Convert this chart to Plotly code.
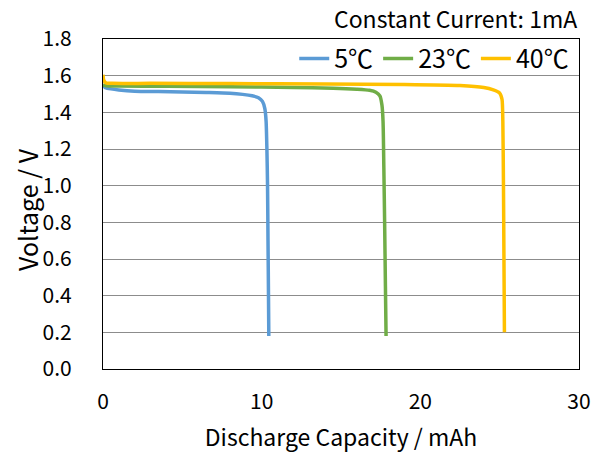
import plotly.graph_objects as go

# Discharge curves
cap_5 = [0, 0.15, 0.5, 1.0, 2.0, 3.5, 5.0, 6.5, 8.0, 8.8, 9.4, 9.8, 10.05, 10.2, 10.28, 10.33, 10.37, 10.4, 10.43, 10.45]
v_5 = [1.545, 1.535, 1.528, 1.522, 1.515, 1.513, 1.511, 1.508, 1.504, 1.498, 1.49, 1.48, 1.46, 1.42, 1.35, 1.2, 1.0, 0.7, 0.4, 0.18]

cap_23 = [0, 0.2, 1.0, 4.0, 8.0, 12.0, 14.5, 16.0, 16.8, 17.2, 17.45, 17.58, 17.65, 17.7, 17.75, 17.8, 17.84]
v_23 = [1.55, 1.545, 1.543, 1.542, 1.54, 1.536, 1.532, 1.526, 1.52, 1.51, 1.49, 1.44, 1.35, 1.1, 0.8, 0.45, 0.18]

cap_40 = [0, 0.05, 0.2, 0.6, 3.0, 8.0, 14.0, 19.0, 22.5, 24.0, 24.6, 25.0, 25.15, 25.2, 25.24, 25.27, 25.3]
v_40 = [1.605, 1.575, 1.56, 1.558, 1.558, 1.557, 1.555, 1.552, 1.546, 1.535, 1.522, 1.505, 1.47, 1.35, 1.0, 0.6, 0.2]

names = ["5℃", "23℃", "40℃"]
colors = ["#5B9BD5", "#70AD47", "#FFC000"]

x_ticks = [0, 10, 20, 30]
y_ticks = [0.0, 0.2, 0.4, 0.6, 0.8, 1.0, 1.2, 1.4, 1.6, 1.8]

font_family = "Noto Sans CJK JP"

fig = go.Figure()
for xs, ys, nm, c in zip([cap_5, cap_23, cap_40], [v_5, v_23, v_40], names, colors):
    fig.add_trace(go.Scatter(x=xs, y=ys, mode="lines", name=nm,
                             line=dict(color=c, width=3.5, shape="spline", smoothing=0.6)))

fig.update_layout(
    width=605, height=456,
    margin=dict(l=103, r=26, t=39, b=87, autoexpand=False),
    paper_bgcolor="white", plot_bgcolor="white",
    font=dict(family=font_family, size=21, color="black"),
    showlegend=True,
    legend=dict(orientation="h", x=0.99, xanchor="right", y=1.01, yanchor="top",
                bgcolor="rgba(255,255,255,0)", font=dict(size=25),
                itemwidth=30, tracegroupgap=0),
    annotations=[
        dict(text="Constant Current: 1mA", x=1.0, xref="paper", xanchor="right",
             y=1.0, yref="paper", yanchor="middle", yshift=21, showarrow=False,
             font=dict(size=23)),
        dict(text="Voltage / V", x=0, xref="paper", xanchor="center", xshift=-76,
             y=0.5, yref="paper", yanchor="middle", yshift=-6, textangle=-90,
             showarrow=False, font=dict(size=25)),
    ],
)
fig.update_xaxes(range=[0, 30], tickvals=x_ticks, ticktext=[str(v) for v in x_ticks],
                 showgrid=False, zeroline=False, showline=True, linecolor="black",
                 linewidth=1.2, mirror=True, ticks="", ticklabelstandoff=14,
                 title=dict(text="Discharge Capacity / mAh", standoff=15, font=dict(size=23)))
fig.update_yaxes(range=[0, 1.8], tickvals=y_ticks, ticktext=[f"{v:.1f}" for v in y_ticks],
                 showgrid=True, gridcolor="#8C8C8C", gridwidth=1.2, zeroline=False,
                 showline=True, linecolor="black", linewidth=1.2, mirror=True, ticks="",
                 ticklabelstandoff=26)

fig.write_html("out.html", config={"displayModeBar": False},
               post_script="document.body.style.margin='0px';")
